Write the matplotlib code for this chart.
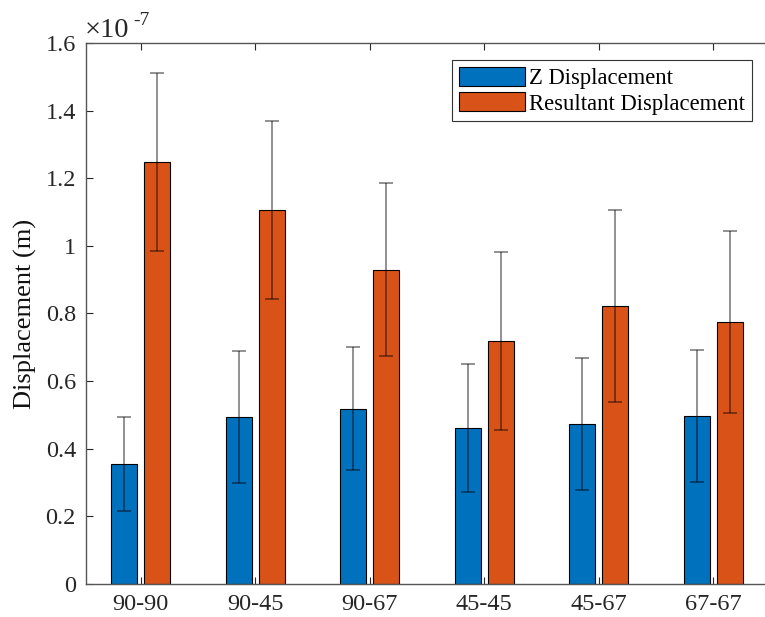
import numpy as np
import matplotlib
matplotlib.use('Agg')
import matplotlib.pyplot as plt

plt.rcParams['font.family'] = ['Liberation Serif', 'DejaVu Serif']

# data (values in units of 1e-7 m)
groups = ['90-90', '90-45', '90-67', '45-45', '45-67', '67-67']
z_disp = [0.355, 0.494, 0.518, 0.461, 0.473, 0.497]
z_err = [0.139, 0.194, 0.182, 0.190, 0.194, 0.194]
res_disp = [1.248, 1.106, 0.929, 0.719, 0.822, 0.775]
res_err = [0.263, 0.262, 0.256, 0.263, 0.283, 0.268]

W, H = 765, 617
fig = plt.figure(figsize=(W / 100, H / 100), dpi=100)
ax = fig.add_axes([85.7 / W, (H - 584) / H, 687 / W, 541 / H])

x = np.arange(1, len(groups) + 1)
bw = 0.227
off = 0.144
blue = '#0072BD'
orange = '#D95319'

ax.bar(x - off, z_disp, bw, color=blue, edgecolor='black', linewidth=0.8,
       label='Z Displacement', zorder=2)
ax.bar(x + off, res_disp, bw, color=orange, edgecolor='black', linewidth=0.8,
       label='Resultant Displacement', zorder=2)

ekw = dict(fmt='none', ecolor=(0, 0, 0, 0.5), elinewidth=1.2, capsize=4.8,
           capthick=1.2, zorder=3)
ax.errorbar(x - off, z_disp, yerr=z_err, **ekw)
ax.errorbar(x + off, res_disp, yerr=res_err, **ekw)

ax.set_xlim(0.52, 6.52)
ax.set_ylim(0, 1.6)
ax.set_xticks(x)
ax.set_xticklabels(groups)
ax.set_yticks(np.arange(0, 1.61, 0.2))
ax.set_yticklabels(['0', '0.2', '0.4', '0.6', '0.8', '1', '1.2', '1.4', '1.6'])
ax.tick_params(direction='in', top=True, right=True, length=5, width=0.8,
               color='#262626', labelsize=17.5, labelcolor='#262626', pad=7)
for s in ax.spines.values():
    s.set_color('#555555')
    s.set_linewidth(1.0)

ax.set_ylabel('Displacement (m)', fontsize=19, color='#111111', labelpad=6)

# exponent label like MATLAB
fig.text(85 / W, 1 - 37 / H, '×10', fontsize=20.5, color='#262626',
         ha='left', va='baseline')
fig.text(133 / W, 1 - 25 / H, '-7', fontsize=14, color='#262626',
         ha='left', va='baseline')

leg = ax.legend(loc='upper right', bbox_to_anchor=(752 / W, 1 - 60 / H),
                bbox_transform=fig.transFigure, fontsize=16.3, frameon=True,
                fancybox=False, framealpha=1, edgecolor='#333333',
                handlelength=2.9, handleheight=0.9, handletextpad=0.2,
                borderpad=0.3, labelspacing=0.15, borderaxespad=0)
leg.get_frame().set_linewidth(0.8)

fig.savefig('out.png', dpi=100)
